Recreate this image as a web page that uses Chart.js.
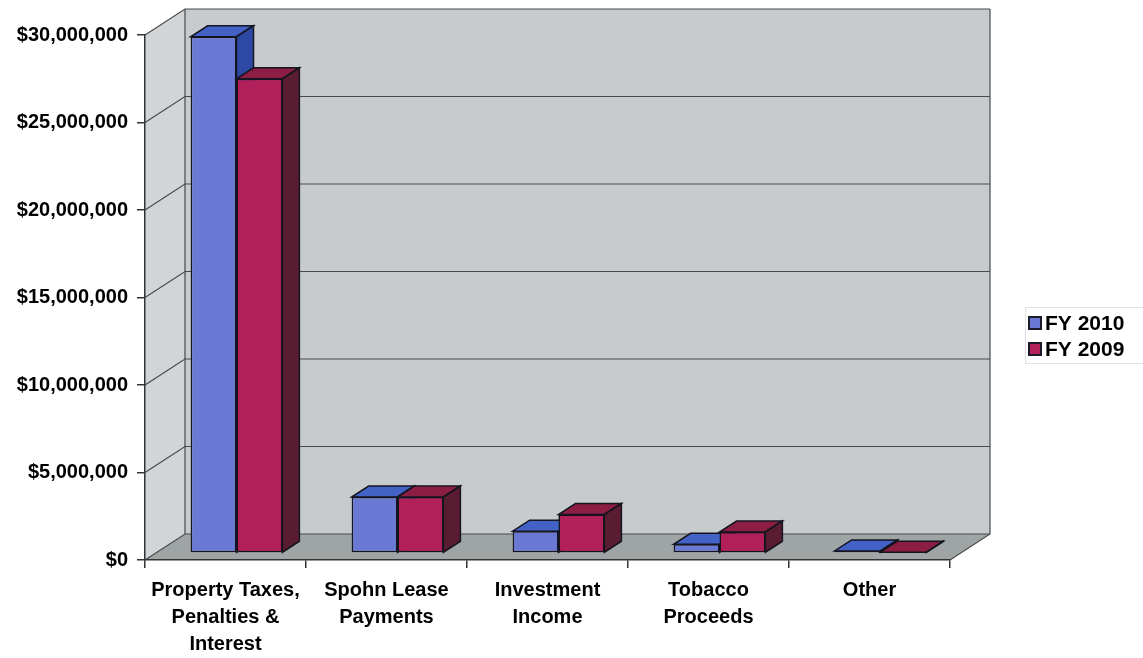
<!DOCTYPE html>
<html>
<head>
<meta charset="utf-8">
<script src="https://cdn.jsdelivr.net/npm/chart.js@4.4.1/dist/chart.umd.min.js"></script>
<style>
  html, body { margin: 0; background: #fff; }
</style>
</head>
<body>
<canvas id="bars" width="1143" height="658"></canvas>
<script>
const categories = [
  ['Property Taxes,', 'Penalties &', 'Interest'],
  ['Spohn Lease', 'Payments'],
  ['Investment', 'Income'],
  ['Tobacco', 'Proceeds'],
  'Other'
];
const fy2010 = [29500000, 3200000, 1250000, 500000, 120000];
const fy2009 = [27100000, 3200000, 2200000, 1200000, 50000];
const yTicks = [0, 5000000, 10000000, 15000000, 20000000, 25000000, 30000000];

// depth of the box and of each bar (oblique 3d look)
const DX = 40, DY = -26;
const BX = 11, BY = -7;
const BDX = 17, BDY = -11;

Chart.defaults.font.family = "'Liberation Sans', Arial, sans-serif";
Chart.defaults.font.weight = 'bold';
Chart.defaults.color = '#000';

function poly(ctx, pts, fill, stroke, lw) {
  ctx.beginPath();
  ctx.moveTo(pts[0][0], pts[0][1]);
  for (let i = 1; i < pts.length; i++) ctx.lineTo(pts[i][0], pts[i][1]);
  ctx.closePath();
  if (fill) { ctx.fillStyle = fill; ctx.fill(); }
  if (stroke) { ctx.strokeStyle = stroke; ctx.lineWidth = lw || 1; ctx.stroke(); }
}

function faces(ctx, bar, ds) {
  const { x, y, base, width } = bar.getProps(['x', 'y', 'base', 'width'], true);
  const l = x - width / 2, r = x + width / 2;
  poly(ctx, [[l, y], [r, y], [r + BDX, y + BDY], [l + BDX, y + BDY]], ds.topColor, '#151520', 1.5);
  poly(ctx, [[r, y], [r + BDX, y + BDY], [r + BDX, base + BDY], [r, base]], ds.sideColor, '#151520', 1.5);
}

const box3d = {
  id: 'box3d',
  beforeDraw(chart) {
    const { ctx, chartArea: a, scales: { y } } = chart;
    ctx.save();
    // back wall
    poly(ctx, [[a.left + DX, a.top + DY], [a.right + DX, a.top + DY],
               [a.right + DX, a.bottom + DY], [a.left + DX, a.bottom + DY]], '#c8cbcd');
    // left wall
    poly(ctx, [[a.left, a.top], [a.left + DX, a.top + DY],
               [a.left + DX, a.bottom + DY], [a.left, a.bottom]], '#d2d5d7');
    // floor
    poly(ctx, [[a.left, a.bottom], [a.right, a.bottom],
               [a.right + DX, a.bottom + DY], [a.left + DX, a.bottom + DY]], '#9fa4a4');
    // gridlines on walls
    ctx.strokeStyle = '#4a4a4a';
    ctx.lineWidth = 1.2;
    y.ticks.forEach(t => {
      const py = y.getPixelForValue(t.value);
      ctx.beginPath();
      ctx.moveTo(a.left, py);
      ctx.lineTo(a.left + DX, py + DY);
      ctx.lineTo(a.right + DX, py + DY);
      ctx.stroke();
    });
    // wall edges
    ctx.beginPath();
    ctx.moveTo(a.left + DX, a.bottom + DY);
    ctx.lineTo(a.left + DX, a.top + DY);
    ctx.moveTo(a.right + DX, a.top + DY);
    ctx.lineTo(a.right + DX, a.bottom + DY);
    ctx.lineTo(a.right, a.bottom);
    ctx.stroke();
    ctx.restore();
  },
  beforeDatasetDraw(chart) {
    chart.ctx.save();
    chart.ctx.translate(BX, BY);
  },
  afterDatasetDraw(chart) {
    chart.ctx.restore();
  },
  afterDatasetsDraw(chart) {
    const ctx = chart.ctx;
    const metas = chart.data.datasets.map((d, k) => chart.getDatasetMeta(k));
    ctx.save();
    ctx.translate(BX, BY);
    categories.forEach((c, i) => {
      metas.forEach((m, k) => {
        const bar = m.data[i];
        // later series sits right of the earlier one and hides its side face
        if (k > 0) bar.draw(ctx);
        faces(ctx, bar, chart.data.datasets[k]);
      });
    });
    ctx.restore();
  },
  afterDraw(chart) {
    const ctx = chart.ctx;
    ctx.save();
    ctx.strokeStyle = '#e2e2e2';
    ctx.lineWidth = 1;
    ctx.strokeRect(1025.5, 307.5, 130, 56);
    ctx.font = "bold 21px 'Liberation Sans', Arial, sans-serif";
    ctx.textBaseline = 'middle';
    chart.data.datasets.forEach((d, i) => {
      const yy = 323 + i * 26;
      ctx.fillStyle = d.backgroundColor;
      ctx.fillRect(1029, yy - 6, 12, 12);
      ctx.strokeStyle = '#1a1a2a';
      ctx.lineWidth = 2;
      ctx.strokeRect(1029, yy - 6, 12, 12);
      ctx.fillStyle = '#000';
      ctx.fillText(d.label, 1045, yy + 1);
    });
    ctx.restore();
  }
};

new Chart(document.getElementById('bars'), {
  type: 'bar',
  data: {
    labels: categories,
    datasets: [{
      label: 'FY 2010',
      data: fy2010,
      backgroundColor: '#6a7ad4',
      topColor: '#4262c6',
      sideColor: '#2c4aa4',
      borderColor: '#151520',
      borderWidth: 1.5,
      borderSkipped: false,
      categoryPercentage: 0.57,
      barPercentage: 1
    }, {
      label: 'FY 2009',
      data: fy2009,
      backgroundColor: '#b2205a',
      topColor: '#8c1e44',
      sideColor: '#5a1c30',
      borderColor: '#151520',
      borderWidth: 1.5,
      borderSkipped: false,
      categoryPercentage: 0.57,
      barPercentage: 1
    }]
  },
  options: {
    responsive: false,
    animation: false,
    layout: { padding: { top: 35, right: 193, left: 0, bottom: 0 } },
    plugins: {
      legend: { display: false },
      tooltip: { enabled: false }
    },
    scales: {
      x: {
        afterFit(s) { s.height = 98; },
        grid: { drawOnChartArea: false, tickLength: 8, color: '#333', lineWidth: 1.5 },
        border: { display: true, color: '#333', width: 1.5 },
        ticks: { font: { size: 20, lineHeight: 1.35 }, padding: 9, maxRotation: 0, autoSkip: false }
      },
      y: {
        min: 0,
        max: 30000000,
        afterFit(s) { s.width = 145; },
        afterBuildTicks(s) { s.ticks = yTicks.map(v => ({ value: v })); },
        grid: { drawOnChartArea: false, tickLength: 8, color: '#333', lineWidth: 1.5 },
        border: { display: true, color: '#333', width: 1.5 },
        ticks: {
          font: { size: 20 },
          padding: 9,
          callback: v => '$' + v.toLocaleString('en-US')
        }
      }
    }
  },
  plugins: [box3d]
});
</script>
</body>
</html>
